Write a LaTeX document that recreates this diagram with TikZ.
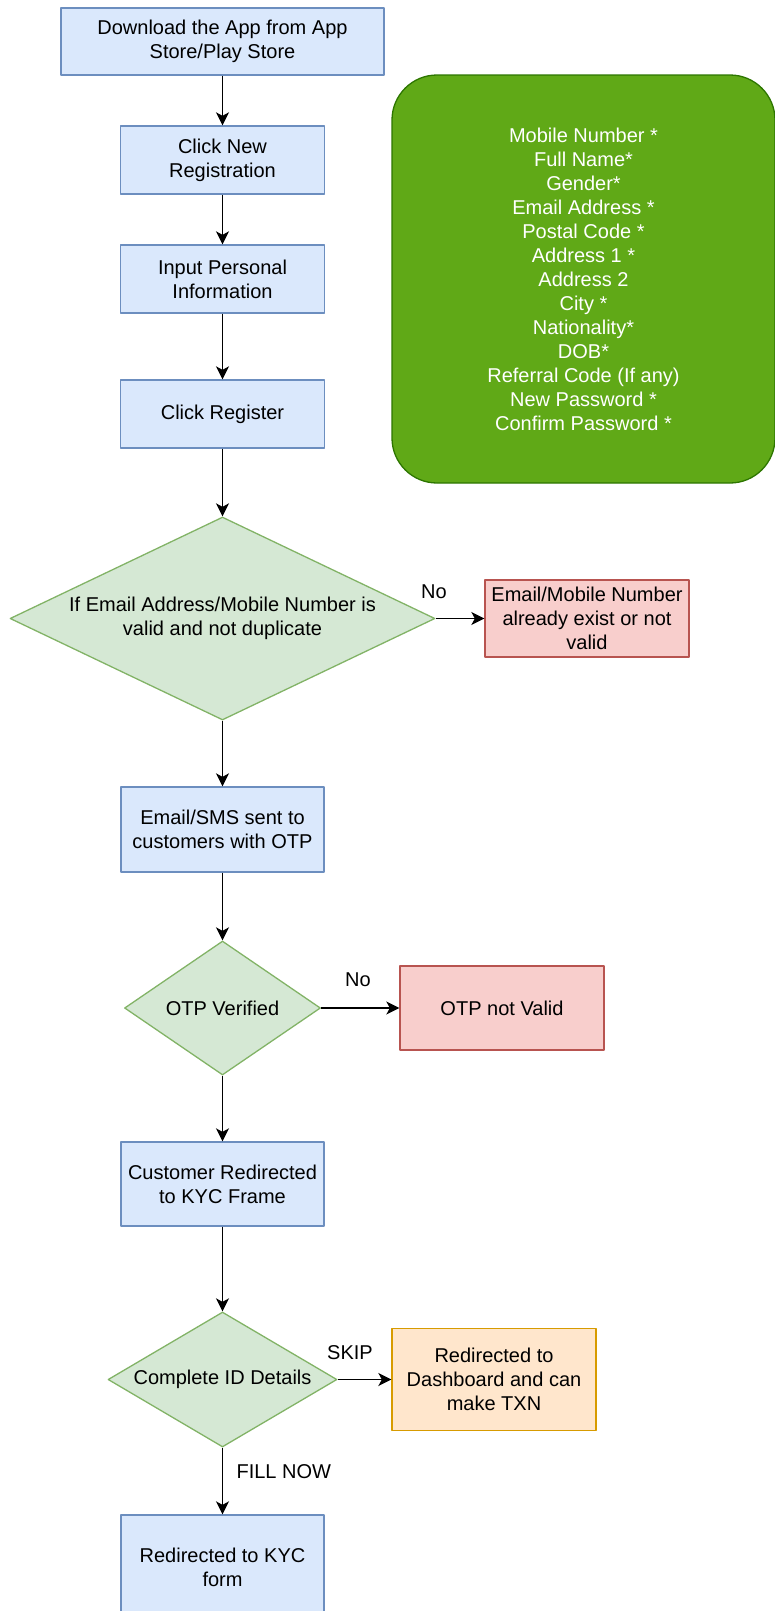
\documentclass[tikz,border=0pt]{standalone}
\usepackage{fontspec}
\setmainfont{Liberation Sans}
\usetikzlibrary{shapes.geometric,arrows.meta}
\definecolor{bluefill}{HTML}{DAE8FC}
\definecolor{blueline}{HTML}{6C8EBF}
\definecolor{greenfill}{HTML}{D5E8D4}
\definecolor{greenline}{HTML}{82B366}
\definecolor{redfill}{HTML}{F8CECC}
\definecolor{redline}{HTML}{B85450}
\definecolor{orangefill}{HTML}{FFE6CC}
\definecolor{orangeline}{HTML}{D79B00}
\definecolor{notefill}{HTML}{60A917}
\definecolor{noteline}{HTML}{2D7600}
\begin{document}
\begin{tikzpicture}[x=1pt,y=-1pt,>={Stealth[length=13pt,width=13pt,inset=3.5pt]},
	font=\fontsize{20}{24}\selectfont, line join=round,
	box/.style={draw=blueline,fill=bluefill,line width=1.3pt,align=center,inner sep=0pt},
	badbox/.style={box,draw=redline,fill=redfill},
	okbox/.style={box,draw=orangeline,fill=orangefill},
	check/.style={diamond,draw=greenline,fill=greenfill,line width=1.3pt,align=center,inner sep=0pt},
	arr/.style={->,line width=1.8pt}]
	\useasboundingbox (0,0) rectangle (774,1611);
	% --- Registration steps ---
	\node[box,minimum width=323pt,minimum height=67pt] (dl) at (222.5,41.5) {Download the App from App\\Store/Play Store};
	\node[box,minimum width=204pt,minimum height=68pt] (newreg) at (222.5,160) {Click New\\Registration};
	\node[box,minimum width=204pt,minimum height=68pt] (input) at (222.5,279) {Input Personal\\Information};
	\node[box,minimum width=204pt,minimum height=68pt] (reg) at (222.5,414) {Click Register};
	% --- Required fields ---
	\node[draw=noteline,fill=notefill,line width=1.3pt,rounded corners=45pt,text=white,align=center,
		minimum width=383pt,minimum height=408pt,inner sep=0pt] (fields) at (583.5,279)
		{Mobile Number *\\Full Name*\\Gender*\\Email Address *\\Postal Code *\\Address 1 *\\Address 2\\City *\\Nationality*\\DOB*\\Referral Code (If any)\\New Password *\\Confirm Password *};
	% --- Checks ---
	\node[check,minimum width=425pt,minimum height=203pt,aspect=2.09] (valid) at (222.5,618.5) {If Email Address/Mobile Number is\\valid and not duplicate};
	\node[badbox,minimum width=204pt,minimum height=77pt] (bad1) at (587,618.5) {Email/Mobile Number\\already exist or not\\valid};
	\node[box,minimum width=203pt,minimum height=85pt] (otpsent) at (222.5,829.5) {Email/SMS sent to\\customers with OTP};
	\node[check,minimum width=196pt,minimum height=134pt,aspect=1.46] (otp) at (222.5,1008) {OTP Verified};
	\node[badbox,minimum width=204pt,minimum height=84pt] (bad2) at (502,1008) {OTP not Valid};
	\node[box,minimum width=203pt,minimum height=84pt] (kyc) at (222.5,1184) {Customer Redirected\\to KYC Frame};
	\node[check,minimum width=229pt,minimum height=135pt,aspect=1.7] (idd) at (222.5,1379.5) {Complete ID Details};
	\node[okbox,minimum width=204pt,minimum height=102pt] (dash) at (494,1379.5) {Redirected to\\Dashboard and can\\make TXN};
	\node[box,minimum width=203pt,minimum height=105pt] (form) at (222.5,1567.5) {Redirected to KYC\\form};
	% --- Connectors ---
	\draw[arr] (dl) -- (newreg);
	\draw[arr] (newreg) -- (input);
	\draw[arr] (input) -- (reg);
	\draw[arr] (reg) -- (valid);
	\draw[arr] (valid.east) -- (bad1.west);
	\draw[arr] (valid) -- (otpsent);
	\draw[arr] (otpsent) -- (otp);
	\draw[arr] (otp.east) -- (bad2.west);
	\draw[arr] (otp) -- (kyc);
	\draw[arr] (kyc) -- (idd);
	\draw[arr] (idd.east) -- (dash.west);
	\draw[arr] (idd) -- (form);
	% --- Labels ---
	\node (lbno1) at (434,592) {No};
	\node (lbno2) at (358,980) {No};
	\node (lbskip) at (350,1353) {SKIP};
	\node[anchor=west] (lbfill) at (233,1472) {FILL NOW};
\end{tikzpicture}
\end{document}
